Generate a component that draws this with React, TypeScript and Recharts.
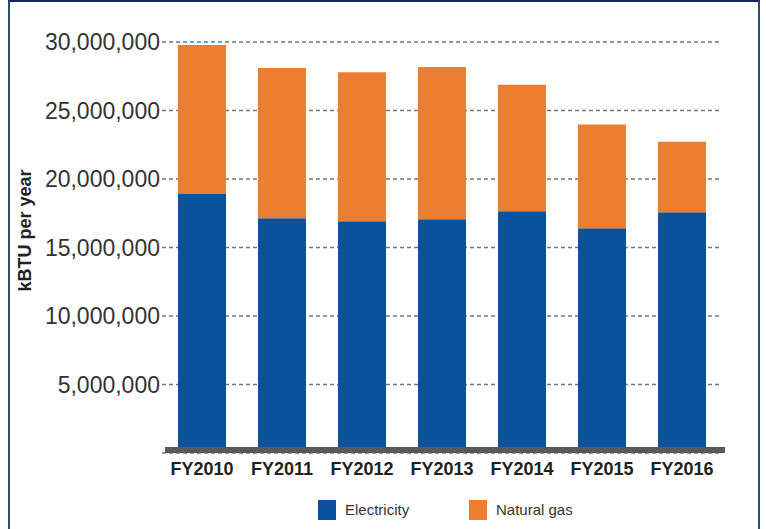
import React from 'react';
import { BarChart, Bar, XAxis, YAxis, CartesianGrid, Legend } from 'recharts';

const years = ['FY2010', 'FY2011', 'FY2012', 'FY2013', 'FY2014', 'FY2015', 'FY2016'];
const electricity = [18900000, 17130000, 16910000, 17060000, 17650000, 16400000, 17570000];
const naturalGas = [10880000, 10970000, 10890000, 11120000, 9230000, 7570000, 5150000];
const yTicks = [5000000, 10000000, 15000000, 20000000, 25000000, 30000000];

const data = years.map((year, i) => ({
  year,
  electricity: electricity[i],
  naturalGas: naturalGas[i],
}));

const BLUE = '#0b529d';
const ORANGE = '#ed7e31';

const renderYLabel = (props: any) => {
  const { viewBox } = props;
  const cx = viewBox.x + 15;
  const cy = viewBox.y + viewBox.height / 2 - 17;
  return (
    <text
      x={cx}
      y={cy}
      transform={`rotate(-90 ${cx} ${cy})`}
      textAnchor="middle"
      dominantBaseline="central"
      fontSize={18}
      fontWeight="bold"
      fill="#222"
    >
      kBTU per year
    </text>
  );
};

const renderLegend = (props: any) => {
  const { payload } = props;
  return (
    <div style={{ display: 'flex', paddingLeft: 308 }}>
      {(payload || []).map((entry: any) => (
        <div key={entry.value} style={{ display: 'flex', alignItems: 'center', width: 151 }}>
          <span style={{ display: 'inline-block', width: 18, height: 20, background: entry.color }} />
          <span style={{ marginLeft: 9, fontSize: 15, color: '#333', lineHeight: '20px' }}>{entry.value}</span>
        </div>
      ))}
    </div>
  );
};

export default function App() {
  return (
    <div
      style={{
        position: 'absolute',
        left: 8,
        top: 0,
        width: 748,
        height: 527,
        borderTop: '2px solid #0d2b55',
        borderLeft: '2px solid #2d4c6e',
        borderRight: '2px solid #2d4c6e',
        background: '#fff',
        fontFamily: '"Liberation Sans", Arial, sans-serif',
      }}
    >
      <BarChart
        width={748}
        height={527}
        data={data}
        margin={{ top: 40, right: 36, bottom: 46, left: 0 }}
        barCategoryGap="20%"
      >
        <CartesianGrid vertical={false} stroke="#777" strokeWidth={1.5} strokeDasharray="4 3" />
        <XAxis
          dataKey="year"
          interval={0}
          tickLine={false}
          tickSize={0}
          tickMargin={9}
          tick={{ fontSize: 18, fontWeight: 'bold', fill: '#231f20' }}
          axisLine={{ stroke: '#58595b', strokeWidth: 6, transform: 'translate(3,-3)' }}
        />
        <YAxis
          type="number"
          domain={[0, 30000000]}
          ticks={yTicks}
          width={152}
          tickLine={false}
          axisLine={false}
          tickSize={0}
          tickMargin={2}
          tick={{ fontSize: 23, fill: '#333' }}
          tickFormatter={(v: number) => v.toLocaleString('en-US')}
          label={{ content: renderYLabel }}
        />
        <Legend
          layout="horizontal"
          verticalAlign="middle"
          align="center"
          wrapperStyle={{ top: 498, left: 0, width: 748 }}
          content={renderLegend}
        />
        <Bar dataKey="electricity" name="Electricity" stackId="a" fill={BLUE} isAnimationActive={false} />
        <Bar dataKey="naturalGas" name="Natural gas" stackId="a" fill={ORANGE} isAnimationActive={false} />
      </BarChart>
    </div>
  );
}
